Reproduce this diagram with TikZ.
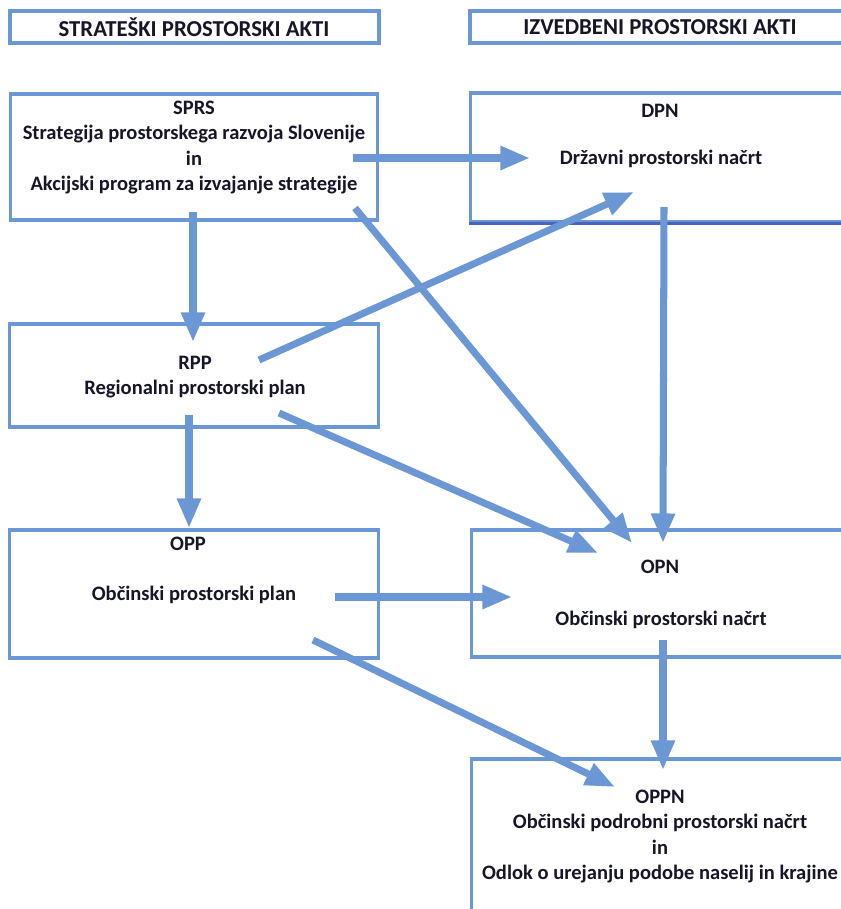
\documentclass[tikz,border=0pt]{standalone}
\usepackage{fontspec}
\setmainfont{Carlito}
\usetikzlibrary{arrows.meta}
\definecolor{boxblue}{RGB}{108,151,213}
\definecolor{edgeblue}{RGB}{76,98,192}
\definecolor{txtcol}{RGB}{22,22,38}

\begin{document}
\begin{tikzpicture}[x=0.025cm,y=-0.025cm,
  box/.style={draw=boxblue,line width=2.2pt,rectangle,inner sep=0pt},
  txt/.style={text=txtcol,align=center,inner sep=0pt,
    font=\bfseries\fontsize{14.6}{17.8}\selectfont},
  headtxt/.style={txt,font=\bfseries\fontsize{16.2}{19}\selectfont},
  arr/.style={draw=boxblue,line width=5pt,
    -{Triangle[length=21pt,width=16pt]}}]
\clip (0,0) rectangle (841,909);

% headers
\node[box,line width=2.8pt,minimum width=9.225cm,minimum height=0.8cm] (head1) at (194.5,27) {};
\node[box,line width=2.8pt,minimum width=10cm,minimum height=0.8cm] (head2) at (670,27) {};
\node[headtxt] (head1-t) at (194,27) {STRATEŠKI PROSTORSKI AKTI};
\node[headtxt] (head2-t) at (660,27) {IZVEDBENI PROSTORSKI AKTI};

% boxes
\node[box,minimum width=9.15cm,minimum height=3.15cm] (sprs) at (194,157) {};
\node[box,minimum width=10.225cm,minimum height=3.225cm] (dpn) at (675.5,157.5) {};
\draw[edgeblue,line width=2.4pt] (dpn.south west) -- (dpn.south east);
\node[box,minimum width=9.2cm,minimum height=2.575cm] (rpp) at (194,375.5) {};
\node[box,minimum width=9.2cm,minimum height=3.2cm] (opp) at (194,594) {};
\node[box,minimum width=10.2cm,minimum height=3.175cm] (opn) at (676,593.5) {};
\node[box,minimum width=10.2cm,minimum height=5.025cm] (oppn) at (676,859.5) {};

% texts
\node[txt] (sprs-t) at (194,147.5) {SPRS\\Strategija prostorskega razvoja Slovenije\\in\\Akcijski program za izvajanje strategije};
\node[txt] (dpn-t1) at (660,111) {DPN};
\node[txt] (dpn-t2) at (661,159) {Državni prostorski načrt};
\node[txt] (rpp-t) at (195,377) {RPP\\Regionalni prostorski plan};
\node[txt] (opp-t1) at (188,544) {OPP};
\node[txt] (opp-t2) at (194,595) {Občinski prostorski plan};
\node[txt] (opn-t1) at (660,567) {OPN};
\node[txt] (opn-t2) at (661,620) {Občinski prostorski načrt};
\node[txt] (oppn-t) at (660,836.5) {OPPN\\Občinski podrobni prostorski načrt\\in\\Odlok o urejanju podobe naselij in krajine};

% arrow ends
\coordinate (s1) at (353,158);  \coordinate (e1) at (530,158);
\coordinate (s2) at (193,212);  \coordinate (e2) at (193,342);
\coordinate (s3) at (355,208);  \coordinate (e3) at (632,543);
\coordinate (s4) at (259,360);  \coordinate (e4) at (634,192);
\coordinate (s5) at (279,413);  \coordinate (e5) at (598,553);
\coordinate (s6) at (189,415);  \coordinate (e6) at (189,528);
\coordinate (s7) at (664,207);  \coordinate (e7) at (663,543);
\coordinate (s8) at (335,597);  \coordinate (e8) at (512,597);
\coordinate (s9) at (313,640);  \coordinate (e9) at (615,787);
\coordinate (s10) at (663,640); \coordinate (e10) at (663,770);

\draw[arr] (s1) -- (e1);
\draw[arr] (s2) -- (e2);
\draw[arr] (s3) -- (e3);
\draw[arr] (s4) -- (e4);
\draw[arr] (s5) -- (e5);
\draw[arr] (s6) -- (e6);
\draw[arr] (s7) -- (e7);
\draw[arr] (s8) -- (e8);
\draw[arr] (s9) -- (e9);
\draw[arr] (s10) -- (e10);
\end{tikzpicture}
\end{document}
